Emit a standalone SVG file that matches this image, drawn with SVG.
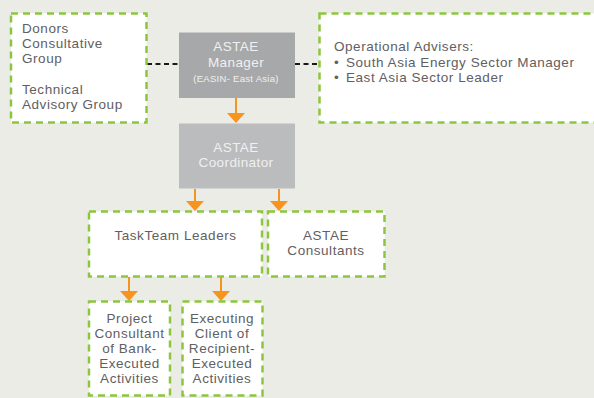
<svg xmlns="http://www.w3.org/2000/svg" width="594" height="398" viewBox="0 0 594 398">
<defs>
<style>
.dash{fill:#ffffff;stroke:#8cc63e;stroke-width:2.5;stroke-dasharray:7 5}
.t{font-family:"Liberation Sans",Arial,sans-serif;font-size:13.5px;letter-spacing:0.55px;fill:#5f6062}
.w{font-family:"Liberation Sans",Arial,sans-serif;font-size:13.5px;letter-spacing:0.4px;fill:#f0f0f0;text-anchor:middle}
.s{font-size:9.5px;letter-spacing:0.3px}
.c{text-anchor:middle}
.arr{stroke:#f7941d;stroke-width:2;fill:none}
.head{fill:#f7941d}
.dot{stroke:#1a1a1a;stroke-width:1.8;stroke-dasharray:5 3.5;fill:none}
</style>
</defs>
<rect width="594" height="398" fill="#ecece7"/>
<g id="connectors">
<line class="dot" x1="147" y1="64" x2="179" y2="64"/>
<line class="dot" x1="295" y1="64" x2="319" y2="64"/>
<line class="arr" x1="236" y1="98" x2="236" y2="114"/>
<polygon class="head" points="227,113 245,113 236,123"/>
<line class="arr" x1="195" y1="189" x2="195" y2="202"/>
<polygon class="head" points="186,201 204,201 195,211"/>
<line class="arr" x1="279" y1="189" x2="279" y2="202"/>
<polygon class="head" points="270,201 288,201 279,211"/>
<line class="arr" x1="129" y1="277" x2="129" y2="292"/>
<polygon class="head" points="120,291 138,291 129,301"/>
<line class="arr" x1="221" y1="277" x2="221" y2="292"/>
<polygon class="head" points="212,291 230,291 221,301"/>
</g>
<g id="donors">
<rect class="dash" x="11" y="13.5" width="135.5" height="109"/>
<text class="t" x="22" y="33">Donors</text>
<text class="t" x="22" y="48">Consultative</text>
<text class="t" x="22" y="63">Group</text>
<text class="t" x="22" y="93.5">Technical</text>
<text class="t" x="22" y="108.5">Advisory Group</text>
</g>
<g id="manager">
<rect x="179" y="32.5" width="116" height="65.5" fill="#a7a8aa"/>
<text class="w" x="236" y="51">ASTAE</text>
<text class="w" x="236" y="66.5">Manager</text>
<text class="w s" x="236" y="82">(EASIN- East Asia)</text>
</g>
<g id="advisers">
<rect class="dash" x="319.5" y="13.5" width="290" height="109"/>
<text class="t" x="334" y="51">Operational Advisers:</text>
<text class="t" x="334" y="66.5">•</text>
<text class="t" x="346" y="66.5">South Asia Energy Sector Manager</text>
<text class="t" x="334" y="82">•</text>
<text class="t" x="346" y="82">East Asia Sector Leader</text>
</g>
<g id="coordinator">
<rect x="179" y="123.5" width="116" height="65" fill="#bbbcbe"/>
<text class="w" x="236" y="152">ASTAE</text>
<text class="w" x="236" y="167">Coordinator</text>
</g>
<g id="taskteam">
<rect class="dash" x="89" y="211.5" width="173" height="65"/>
<text class="t c" x="175.5" y="239.5">TaskTeam Leaders</text>
</g>
<g id="consultants">
<rect class="dash" x="268" y="211.5" width="116.5" height="65"/>
<text class="t c" x="326" y="239.5">ASTAE</text>
<text class="t c" x="326" y="255">Consultants</text>
</g>
<g id="project">
<rect class="dash" x="89" y="301.5" width="81" height="94"/>
<text class="t c" x="129.5" y="322.5">Project</text>
<text class="t c" x="129.5" y="337.5">Consultant</text>
<text class="t c" x="129.5" y="352.5">of Bank-</text>
<text class="t c" x="129.5" y="367.5">Executed</text>
<text class="t c" x="129.5" y="383">Activities</text>
</g>
<g id="executing">
<rect class="dash" x="182.5" y="301.5" width="80" height="94"/>
<text class="t c" x="222" y="322.5">Executing</text>
<text class="t c" x="222" y="337.5">Client of</text>
<text class="t c" x="222" y="352.5">Recipient-</text>
<text class="t c" x="222" y="367.5">Executed</text>
<text class="t c" x="222" y="383">Activities</text>
</g>
</svg>
